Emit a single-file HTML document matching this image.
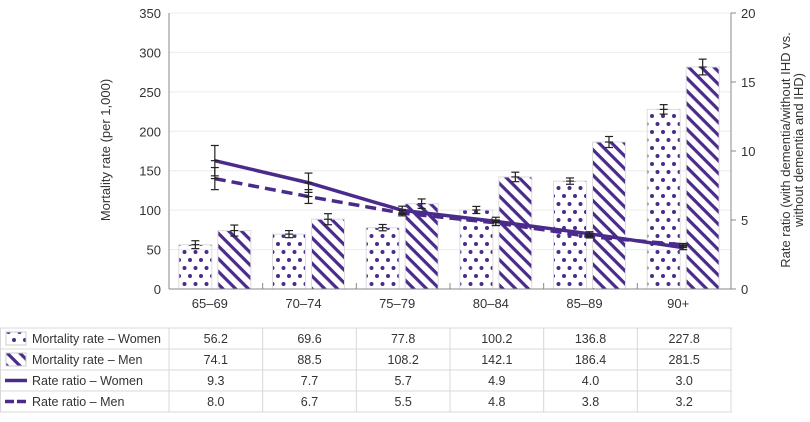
<!DOCTYPE html>
<html><head><meta charset="utf-8"><style>
body{margin:0;background:#fff;font-family:"Liberation Sans",sans-serif;}
svg text{font-family:"Liberation Sans",sans-serif;fill:#333;}
</style></head><body>
<svg id="chart" width="810" height="417" viewBox="0 0 810 417" xmlns="http://www.w3.org/2000/svg">
<defs>
<pattern id="dots" patternUnits="userSpaceOnUse" width="11" height="16"><circle cx="3" cy="4" r="2" fill="#4a2a8a"/><circle cx="8.5" cy="12" r="2" fill="#4a2a8a"/></pattern>
<pattern id="stripes" patternUnits="userSpaceOnUse" width="9" height="9" patternTransform="rotate(45)"><rect x="0" y="0" width="9" height="3.2" fill="#4a2a8a"/></pattern>
</defs>
<g id="grid"></g>
<g id="bars"></g>
<g id="lines"></g>
<g id="axes"></g>
<g id="table"></g>
<text transform="translate(110,150) rotate(-90)" text-anchor="middle" font-size="13">Mortality rate (per 1,000)</text>
<text transform="translate(790,150) rotate(-90)" text-anchor="middle" font-size="13"><tspan x="0" dy="0">Rate ratio (with dementia/without IHD vs.</tspan><tspan x="0" dy="13">without dementia and IHD)</tspan></text>
</svg>
<script>
const categories=["65–69","70–74","75–79","80–84","85–89","90+"];
const womenRate=[56.2,69.6,77.8,100.2,136.8,227.8];
const menRate=[74.1,88.5,108.2,142.1,186.4,281.5];
const womenRatio=[9.3,7.7,5.7,4.9,4.0,3.0];
const menRatio=[8.0,6.7,5.5,4.8,3.8,3.2];
const womenRateErr=[5,4.5,4,4.5,4,6];
const menRateErr=[7,7,6,6,7,10];
const womenRatioErr=[1.1,0.7,0.3,0.3,0.15,0.15];
const menRatioErr=[0.8,0.5,0.2,0.2,0.1,0.1];
const leftTicks=[0,50,100,150,200,250,300,350];
const rightTicks=[0,5,10,15,20];
const NS="http://www.w3.org/2000/svg";
const X0=169,X1=731,Y0=289,Y1=13;
const gw=(X1-X0)/categories.length;
const cx=i=>X0+gw*(i+0.5)-1;
const yL=v=>Y0-(v/350)*(Y0-Y1);
const yR=v=>Y0-(v/20)*(Y0-Y1);
function el(tag,attrs,parent){const e=document.createElementNS(NS,tag);for(const k in attrs)e.setAttribute(k,attrs[k]);parent.appendChild(e);return e;}
const grid=document.getElementById('grid'),bars=document.getElementById('bars'),lines=document.getElementById('lines'),axes=document.getElementById('axes'),table=document.getElementById('table');
leftTicks.forEach(t=>{
  if(t>0){const g=el('line',{x1:X0,x2:X1,y1:yL(t),y2:yL(t),stroke:'#ececec','stroke-width':1},grid);
  
  }
  const tx=el('text',{x:X0-8,y:yL(t)+5,'text-anchor':'end','font-size':13},axes);tx.textContent=t;
  
  
});
rightTicks.forEach(t=>{
  el('line',{x1:X1,x2:X1+5,y1:yR(t),y2:yR(t),stroke:'#888'},axes);
  const tx=el('text',{x:X1+10,y:yR(t)+5,'font-size':13},axes);tx.textContent=t;
  
  
});
function errBar(x,yc,yt,yb,parent){
  el('line',{x1:x,x2:x,y1:yt,y2:yb,stroke:'#222','stroke-width':1.2},parent);
  el('line',{x1:x-4,x2:x+4,y1:yt,y2:yt,stroke:'#222','stroke-width':1.2},parent);
  el('line',{x1:x-4,x2:x+4,y1:yb,y2:yb,stroke:'#222','stroke-width':1.2},parent);
  el('line',{x1:x-4,x2:x+4,y1:yc,y2:yc,stroke:'#222','stroke-width':1.2},parent);
}
categories.forEach((c,i)=>{
  const c0=cx(i);
  const w=el('rect',{x:c0-36,y:yL(womenRate[i]),width:33,height:Y0-yL(womenRate[i]),fill:'url(#dots)',stroke:'#ddd'},bars);
  
  
  const m=el('rect',{x:c0+3,y:yL(menRate[i]),width:33,height:Y0-yL(menRate[i]),fill:'url(#stripes)',stroke:'#ddd'},bars);
  
  
  errBar(c0-19.5,yL(womenRate[i]),yL(womenRate[i]+womenRateErr[i]),yL(womenRate[i]-womenRateErr[i]),bars);
  errBar(c0+19.5,yL(menRate[i]),yL(menRate[i]+menRateErr[i]),yL(menRate[i]-menRateErr[i]),bars);
  if(i>0){el('line',{x1:X0+gw*i,x2:X0+gw*i,y1:Y0,y2:Y0-6,stroke:'#888'},axes);}
  const lb=el('text',{x:c0-5,y:308,'text-anchor':'middle','font-size':13},axes);lb.textContent=c;
  
  
});
const pw=womenRatio.map((v,i)=>cx(i)+','+yR(v)).join(' ');
const pm=menRatio.map((v,i)=>cx(i)+','+yR(v)).join(' ');
const lw=el('polyline',{points:pw,fill:'none',stroke:'#4a2a8a','stroke-width':3.5},lines);


const lm=el('polyline',{points:pm,fill:'none',stroke:'#4a2a8a','stroke-width':3.5,'stroke-dasharray':'11,6'},lines);


categories.forEach((c,i)=>{
  errBar(cx(i),yR(womenRatio[i]),yR(womenRatio[i]+womenRatioErr[i]),yR(womenRatio[i]-womenRatioErr[i]),lines);
  errBar(cx(i),yR(menRatio[i]),yR(menRatio[i]+menRatioErr[i]),yR(menRatio[i]-menRatioErr[i]),lines);
});
el('line',{x1:X0,x2:X0,y1:Y1,y2:Y0,stroke:'#888'},axes);
el('line',{x1:X1,x2:X1,y1:Y1,y2:Y0,stroke:'#888'},axes);
el('line',{x1:X0,x2:X1,y1:Y0,y2:Y0,stroke:'#888'},axes);
const rows=[["Mortality rate – Women",womenRate,'dots'],["Mortality rate – Men",menRate,'stripes'],["Rate ratio – Women",womenRatio,'solid'],["Rate ratio – Men",menRatio,'dash']];
const TY=328,RH=21;
for(let r=0;r<=4;r++){el('line',{x1:0,x2:X1+1,y1:TY+r*RH,y2:TY+r*RH,stroke:'#d8d8d8'},table);}
for(let c=0;c<=6;c++){el('line',{x1:X0+gw*c,x2:X0+gw*c,y1:TY,y2:TY+4*RH,stroke:'#d8d8d8'},table);}
el('line',{x1:0.5,x2:0.5,y1:TY,y2:TY+4*RH,stroke:'#d8d8d8'},table);
rows.forEach((row,r)=>{
  const y=TY+r*RH;
  if(row[2]==='dots'||row[2]==='stripes'){el('rect',{x:6,y:y+4,width:20,height:13,fill:'url(#'+row[2]+')',stroke:'#ccc'},table);}
  else{el('line',{x1:5,x2:27,y1:y+10.5,y2:y+10.5,stroke:'#4a2a8a','stroke-width':3.5,'stroke-dasharray':row[2]==='dash'?'9,3':'none'},table);}
  const t=el('text',{x:32,y:y+15,'font-size':12.5},table);t.textContent=row[0];
  
  
  row[1].forEach((v,i)=>{
    const tv=el('text',{x:X0+gw*(i+0.5),y:y+15,'text-anchor':'middle','font-size':12.5},table);tv.textContent=v.toFixed(1);
    
    
  });
});
</script>
</body></html>
